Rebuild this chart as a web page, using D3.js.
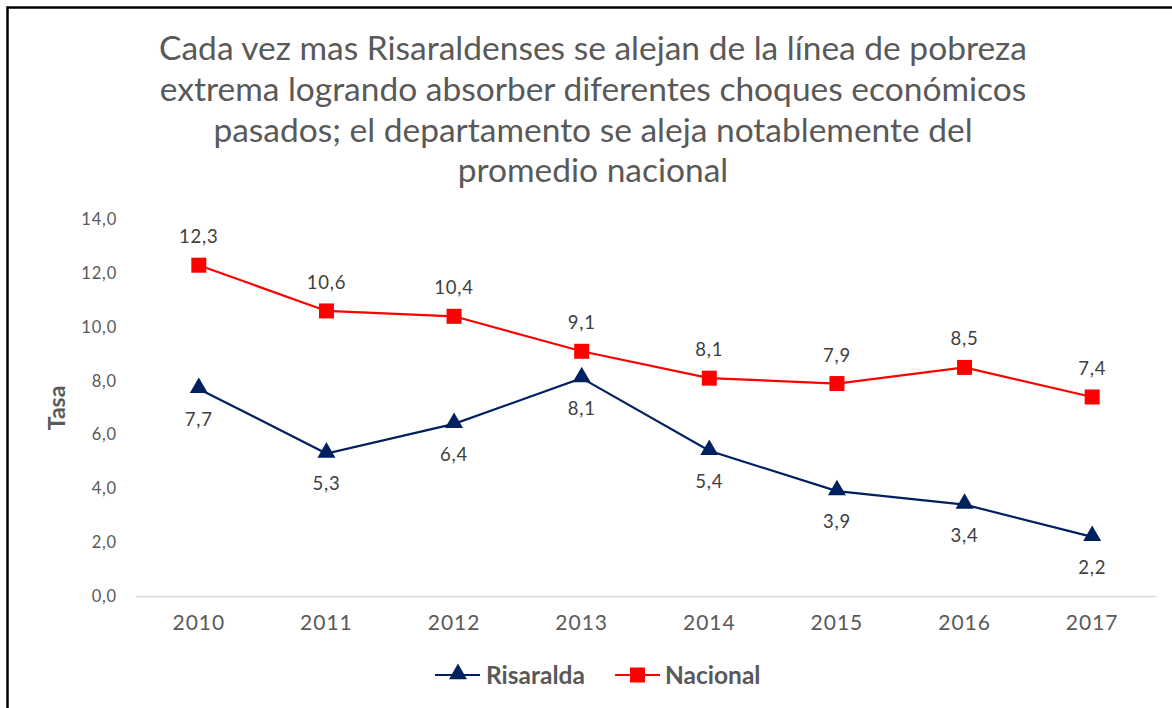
<!DOCTYPE html>
<html>
<head>
<meta charset="utf-8">
<script src="https://cdn.jsdelivr.net/npm/d3@7"></script>
<style>
  body { margin: 0; background: #fff; }
  svg { display: block; font-family: Lato, "Open Sans", sans-serif; }
</style>
</head>
<body>
<div id="chart"></div>
<script>
// data
var years = ["2010", "2011", "2012", "2013", "2014", "2015", "2016", "2017"];
var risaralda = [7.7, 5.3, 6.4, 8.1, 5.4, 3.9, 3.4, 2.2];
var nacional = [12.3, 10.6, 10.4, 9.1, 8.1, 7.9, 8.5, 7.4];
var yTicks = [0, 2, 4, 6, 8, 10, 12, 14];
var titleLines = [
  "Cada vez mas Risaraldenses se alejan de la línea de pobreza",
  "extrema logrando absorber diferentes choques económicos",
  "pasados; el departamento se aleja notablemente del",
  "promedio nacional"
];

var width = 1172, height = 708;
var fmt = function(v) { return v.toFixed(1).replace(".", ","); };

var svg = d3.select("#chart").append("svg")
    .attr("width", width)
    .attr("height", height);

// outer frame (right/bottom edges fall outside the picture)
svg.append("rect")
    .attr("x", 7.5).attr("y", 7.5)
    .attr("width", width + 20).attr("height", height + 20)
    .attr("fill", "#fff")
    .attr("stroke", "#000")
    .attr("stroke-width", 2.5);

// title
svg.append("g").selectAll("text")
    .data(titleLines)
  .enter().append("text")
    .attr("x", 593)
    .attr("y", function(d, i) { return 60 + i * 40.8; })
    .attr("text-anchor", "middle")
    .attr("font-size", 33.5)
    .attr("fill", "#595959")
    .text(function(d) { return d; });

var x = d3.scaleBand().domain(years).range([135, 1156]);
var y = d3.scaleLinear().domain([0, 14]).range([596, 219.5]);
var cx = function(d, i) { return x(years[i]) + x.bandwidth() / 2; };

// y axis labels only, no line
var yaxis = d3.axisLeft(y).tickValues(yTicks).tickSize(0).tickPadding(0).tickFormat(fmt);
var gy = svg.append("g")
    .attr("transform", "translate(117,0)")
    .call(yaxis);
gy.select(".domain").remove();
gy.selectAll("text")
    .attr("font-family", "Lato, sans-serif")
    .attr("font-size", 16.5)
    .attr("letter-spacing", 0.8)
    .attr("fill", "#595959");

// x axis
var xaxis = d3.axisBottom(x).tickSize(0).tickPadding(19);
var gx = svg.append("g")
    .attr("transform", "translate(0," + y(0) + ")")
    .call(xaxis);
gx.select(".domain").attr("stroke", "#d9d9d9").attr("stroke-width", 1.5);
gx.selectAll("text")
    .attr("font-family", "Lato, sans-serif")
    .attr("font-size", 21)
    .attr("letter-spacing", 1)
    .attr("fill", "#595959");

// y axis title
svg.append("text")
    .attr("transform", "translate(65,408) rotate(-90)")
    .attr("text-anchor", "middle")
    .attr("font-size", 23)
    .attr("font-weight", "bold")
    .attr("fill", "#595959")
    .text("Tasa");

var line = d3.line()
    .x(cx)
    .y(function(d) { return y(d); });

var tri = d3.symbol().type(d3.symbolTriangle).size(140);

// Nacional
svg.append("path").datum(nacional)
    .attr("d", line)
    .attr("fill", "none")
    .attr("stroke", "#ff0000")
    .attr("stroke-width", 2.2);
svg.selectAll(".sq").data(nacional)
  .enter().append("rect")
    .attr("class", "sq")
    .attr("x", function(d, i) { return cx(d, i) - 7.5; })
    .attr("y", function(d) { return y(d) - 7.5; })
    .attr("width", 15).attr("height", 15)
    .attr("fill", "#ff0000");
svg.selectAll(".nlab").data(nacional)
  .enter().append("text")
    .attr("class", "nlab")
    .attr("x", cx)
    .attr("y", function(d) { return y(d) - 22; })
    .attr("text-anchor", "middle")
    .attr("font-size", 18.5)
    .attr("letter-spacing", 0.8)
    .attr("fill", "#404040")
    .text(fmt);

// Risaralda
svg.append("path").datum(risaralda)
    .attr("d", line)
    .attr("fill", "none")
    .attr("stroke", "#002060")
    .attr("stroke-width", 2.2);
svg.selectAll(".tr").data(risaralda)
  .enter().append("path")
    .attr("class", "tr")
    .attr("d", tri)
    .attr("transform", function(d, i) { return "translate(" + cx(d, i) + "," + (y(d) - 1) + ")"; })
    .attr("fill", "#002060");
svg.selectAll(".rlab").data(risaralda)
  .enter().append("text")
    .attr("class", "rlab")
    .attr("x", cx)
    .attr("y", function(d) { return y(d) + 37; })
    .attr("text-anchor", "middle")
    .attr("font-size", 18.5)
    .attr("letter-spacing", 0.8)
    .attr("fill", "#404040")
    .text(fmt);

// legend
var legend = svg.append("g").attr("transform", "translate(0,675)");
legend.append("line").attr("x1", 435).attr("x2", 480)
    .attr("stroke", "#002060").attr("stroke-width", 2.2);
legend.append("path").attr("d", tri).attr("transform", "translate(458,-1)").attr("fill", "#002060");
legend.append("text").attr("x", 486).attr("y", 8.5)
    .attr("font-size", 24.5).attr("font-weight", "bold").attr("fill", "#595959")
    .text("Risaralda");
legend.append("line").attr("x1", 615).attr("x2", 660)
    .attr("stroke", "#ff0000").attr("stroke-width", 2.2);
legend.append("rect").attr("x", 630).attr("y", -7.5).attr("width", 15).attr("height", 15).attr("fill", "#ff0000");
legend.append("text").attr("x", 665).attr("y", 8.5)
    .attr("font-size", 24.5).attr("font-weight", "bold").attr("fill", "#595959")
    .text("Nacional");
</script>
</body>
</html>
